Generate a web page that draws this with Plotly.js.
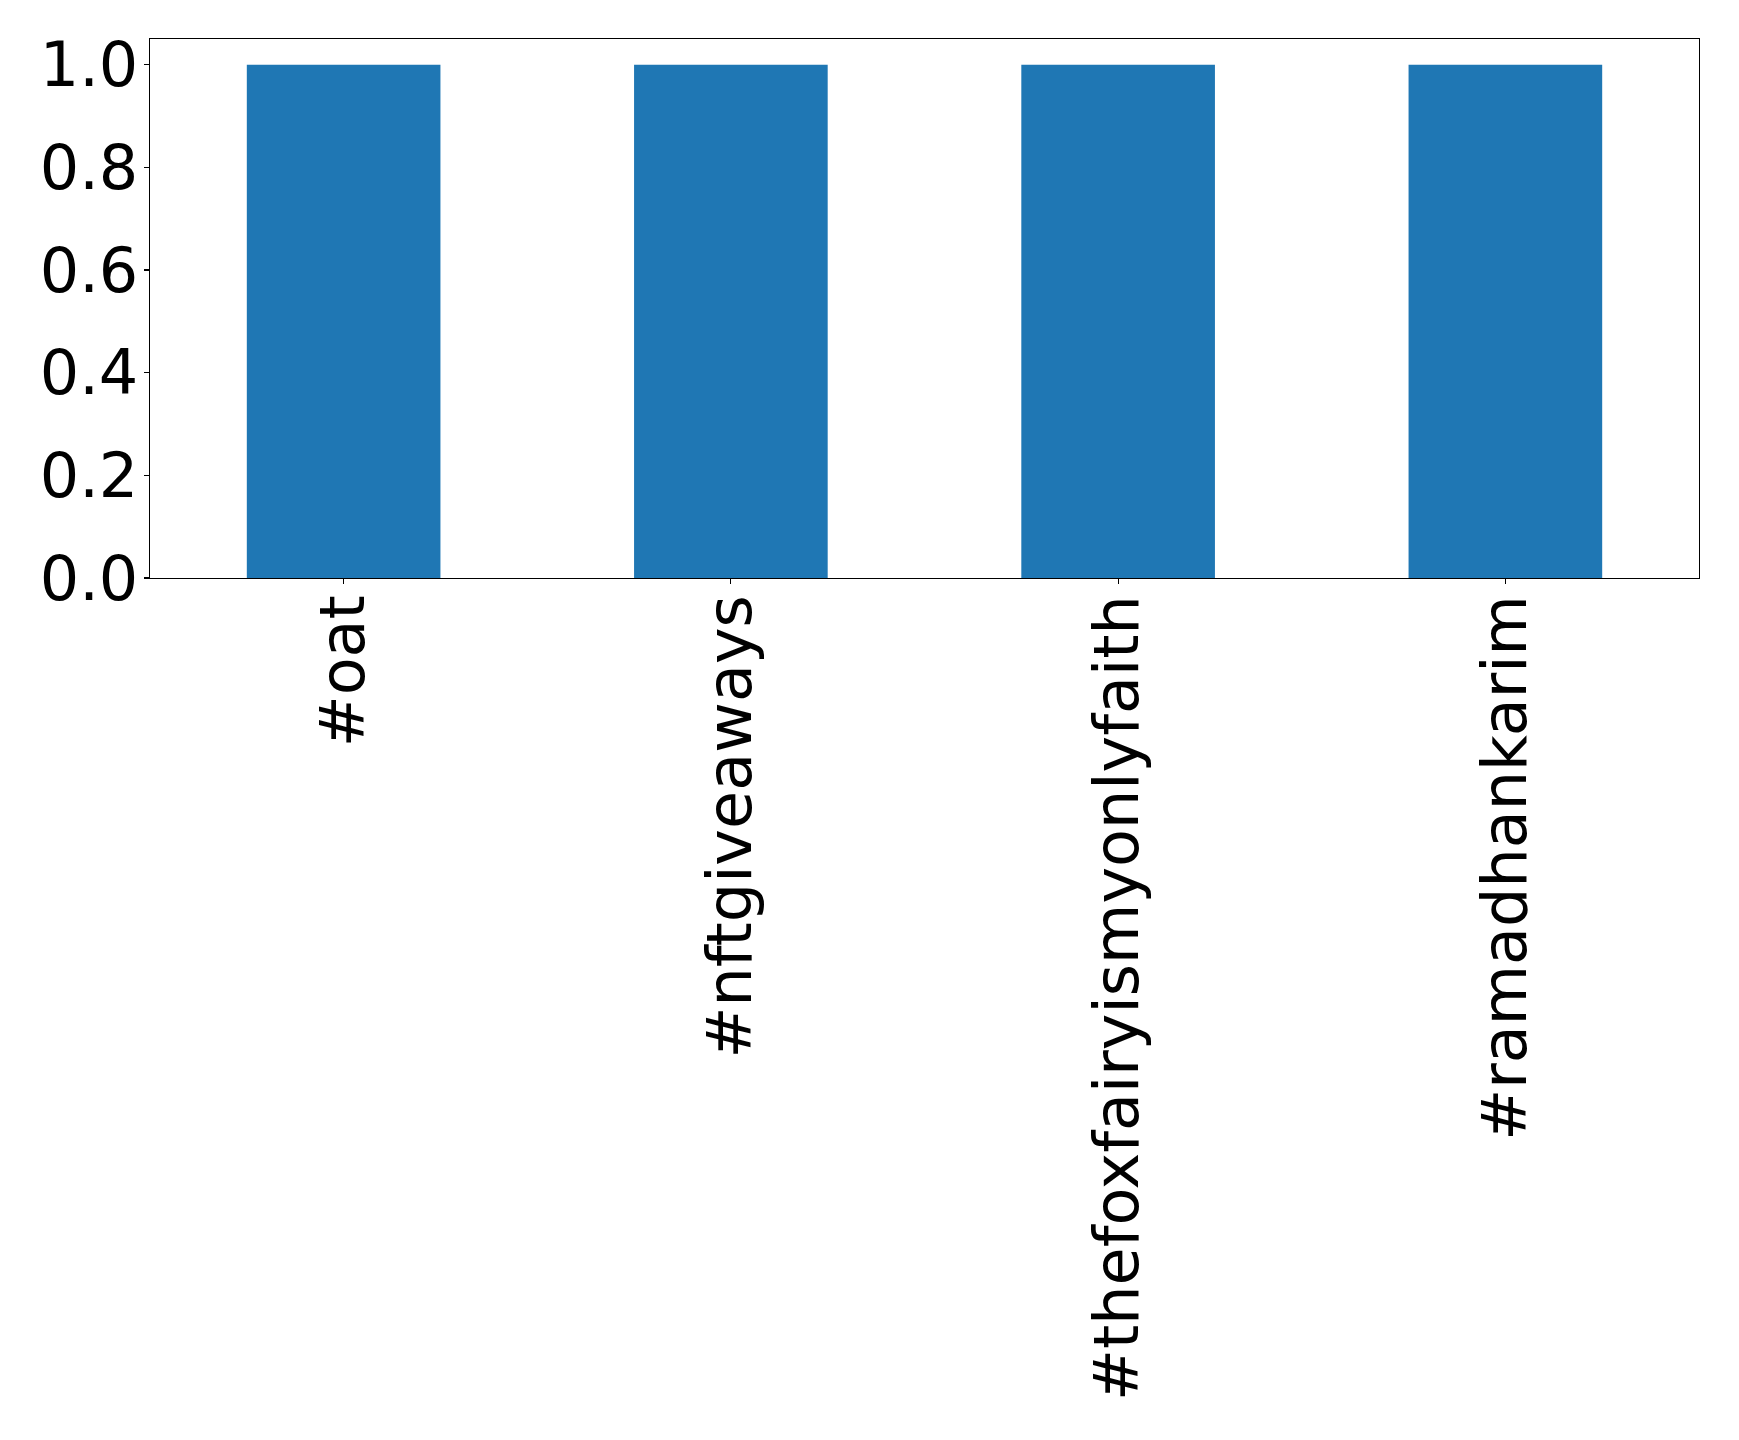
<!DOCTYPE html>
<html>
<head>
<meta charset="utf-8">
<script src="https://cdn.plot.ly/plotly-3.0.1.min.js"></script>
<style>html,body{margin:0;padding:0;background:#fff;}#chart{width:1739px;height:1440px;}</style>
</head>
<body>
<div id="chart"></div>
<script>
const categories = ["#oat", "#nftgiveaways", "#thefoxfairyismyonlyfaith", "#ramadhankarim"];
const counts = [1, 1, 1, 1];
const yTickVals = [0, 0.2, 0.4, 0.6, 0.8, 1.0];
const yTickText = ["0.0", "0.2", "0.4", "0.6", "0.8", "1.0"];

const font = {family: "DejaVu Sans", size: 62, color: "#000"};
Plotly.newPlot("chart", [{
  type: "bar",
  x: categories,
  y: counts,
  width: 0.5,
  marker: {color: "#1f77b4", line: {width: 0}},
  hoverinfo: "skip"
}], {
  width: 1739, height: 1440,
  margin: {l: 149.5, r: 40, t: 39, b: 862, pad: 0},
  paper_bgcolor: "#fff", plot_bgcolor: "#fff",
  showlegend: false,
  font: font,
  xaxis: {
    type: "category", range: [-0.5, 3.5],
    showgrid: false, zeroline: false,
    showline: true, linecolor: "#000", linewidth: 1.3, mirror: true,
    ticks: "outside", ticklen: 5, tickwidth: 1.2, tickcolor: "#000",
    tickangle: -90, tickfont: font, ticklabelstandoff: -14
  },
  yaxis: {
    range: [0, 1.05],
    tickvals: yTickVals, ticktext: yTickText,
    showgrid: false, zeroline: false,
    showline: true, linecolor: "#000", linewidth: 1.3, mirror: true,
    ticks: "outside", ticklen: 5, tickwidth: 1.2, tickcolor: "#000",
    tickfont: font, ticklabelstandoff: -7
  }
}, {staticPlot: true});
</script>
</body>
</html>
